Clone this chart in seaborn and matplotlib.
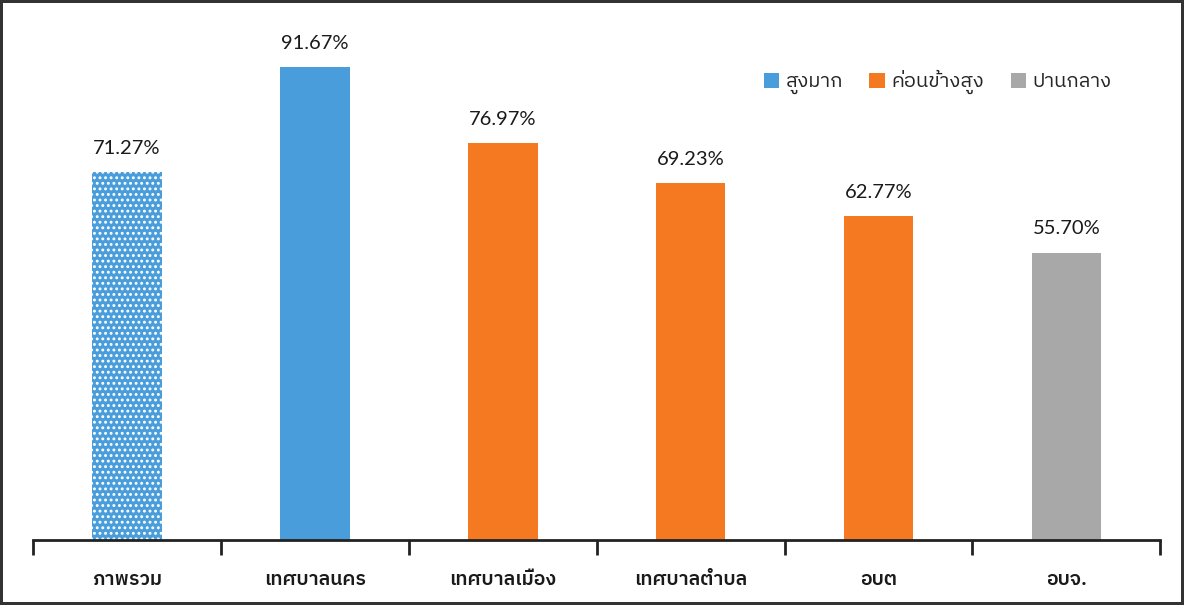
import matplotlib
matplotlib.use("Agg")
import matplotlib.pyplot as plt
import seaborn as sns
import pandas as pd
from matplotlib.patches import Patch

# --- DATA ---
categories = ["ภาพรวม", "เทศบาลนคร", "เทศบาลเมือง", "เทศบาลตำบล", "อบต", "อบจ."]
percent = [71.27, 91.67, 76.97, 69.23, 62.77, 55.70]
bar_colors = ["#4a9ddb", "#4a9ddb", "#f47920", "#f47920", "#f47920", "#a8a8a8"]
legend_labels = ["สูงมาก", "ค่อนข้างสูง", "ปานกลาง"]
legend_colors = ["#4a9ddb", "#f47920", "#a8a8a8"]

THAI = ["IBM Plex Sans Thai", "Noto Sans Thai", "DejaVu Sans"]
NUM = ["Lato", "DejaVu Sans"]

sns.set_style("white")
plt.rcParams["hatch.linewidth"] = 1.3

df = pd.DataFrame({"category": categories, "percent": percent})

fig = plt.figure(figsize=(11.84, 6.05), dpi=100)
fig.patch.set_edgecolor("#333333")
fig.patch.set_linewidth(3)
ax = fig.add_axes([0.028, 0.107, 0.952, 0.868])

sns.barplot(data=df, x="category", y="percent", hue="category",
            palette=bar_colors, width=0.37, legend=False, ax=ax,
            saturation=1, linewidth=0)

# dotted pattern on the overall bar
ax.patches[0].set_hatch("...")
ax.patches[0].set_edgecolor("white")

for p, v in zip(ax.patches, percent):
    ax.annotate(f"{v:.2f}%", (p.get_x() + p.get_width() / 2, p.get_height()),
                xytext=(0, 11), textcoords="offset points", ha="center", va="bottom",
                fontsize=14.5, color="#1a1a1a", family=NUM)

ax.set_xlim(-0.5, len(categories) - 0.5)
ax.set_ylim(0, 101.7)
ax.set_xlabel("")
ax.set_ylabel("")
ax.set_yticks([])
for s in ["left", "right", "top"]:
    ax.spines[s].set_visible(False)
ax.spines["bottom"].set_linewidth(2)
ax.spines["bottom"].set_color("#222222")

ax.set_xticks(range(len(categories)))
ax.set_xticklabels(categories, family=THAI, fontsize=14, fontweight="semibold", color="#1a1a1a")
ax.tick_params(axis="x", which="major", length=0, pad=22)
ax.set_xticks([i - 0.5 for i in range(len(categories) + 1)], minor=True)
ax.tick_params(axis="x", which="minor", bottom=True, length=11, width=2,
               color="#222222", direction="out")

handles = [Patch(facecolor=c, edgecolor="none") for c in legend_colors]
ax.legend(handles, legend_labels, ncol=3, frameon=False, loc="center right",
          bbox_to_anchor=(0.957, 0.872), borderaxespad=0, borderpad=0,
          prop={"family": THAI, "size": 14.5},
          handlelength=0.75, handleheight=0.75, handletextpad=0.35, columnspacing=1.3)

fig.savefig("out.png", dpi=100)
